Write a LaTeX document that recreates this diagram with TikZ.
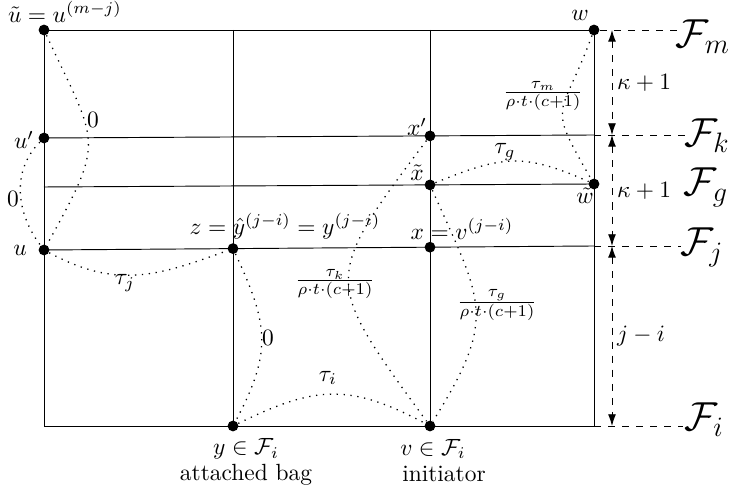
\documentclass[tikz,border=0pt]{standalone}
\usepackage{amsmath,amssymb}
\usetikzlibrary{arrows.meta,positioning,calc}

\tikzset{
  pt/.style={circle,fill=black,inner sep=0pt,minimum size=4.6pt},
  walk/.style={line width=0.55pt,dash pattern=on 0.55pt off 2.4pt},
  guide/.style={dashed},
  gap/.style={dashed,{Latex[length=5pt,width=3.4pt]}-{Latex[length=5pt,width=3.4pt]}},
  fam/.style={font=\LARGE,inner sep=0pt},
}

\begin{document}
\begin{tikzpicture}[x=0.015cm,y=-0.015cm]
\useasboundingbox (0,0) rectangle (731,497);

% points of the grid
\node[pt] (ut) at (44,30) {};
\node[pt] (up) at (44,138) {};
\node[pt] (u) at (44,250) {};
\node[pt] (z) at (233,248.6) {};
\node[pt] (xp) at (430,135.9) {};
\node[pt] (xt) at (430,184.9) {};
\node[pt] (x) at (430,247.2) {};
\node[pt] (w) at (594,30) {};
\node[pt] (wt) at (594,184) {};
\node[pt] (y) at (233,426) {};
\node[pt] (v) at (430,426) {};
\coordinate (bl) at (44,426);
\coordinate (br) at (594,426);
\coordinate (ytop) at (233,30);
\coordinate (vtop) at (430,30);
\coordinate (lg) at (44,187);
\coordinate (rk) at (594,135);
\coordinate (rj) at (594,246);

% frame and levels
\draw (ut.center) -- (w.center) -- (br) -- (bl) -- cycle;
\draw (ytop) -- (y.center);
\draw (vtop) -- (v.center);
\draw (up.center) -- (rk);
\draw (lg) -- (wt.center);
\draw (u.center) -- (rj);

% walks
\draw[walk] (ut) to[out=-65,in=61,looseness=1.5] (u);
\draw[walk] (up) to[out=-135,in=127] (u);
\draw[walk] (u) to[out=-28,in=-160,looseness=1.1] (z);
\draw[walk] (z) to[out=-65,in=62,looseness=1.2] (y);
\draw[walk] (y) to[out=26,in=152,looseness=1.18] (v);
\draw[walk] (xp) to[out=233,in=126,looseness=1.6] (v);
\draw[walk] (xt) to[out=-66,in=58,looseness=1.36] (v);
\draw[walk] (xt) to[out=22,in=156,looseness=1.2] (wt);
\draw[walk] (w) to[out=-110,in=120,looseness=1.63] (wt);

% weights
\node (c0a) at (93,120) {$0$};
\node (c0b) at (13,199) {$0$};
\node (ctj) at (125,283) {$\tau_j$};
\node (c0c) at (268,338) {$0$};
\node (cti) at (328,378) {$\tau_i$};
\node (ctk) at (335,284) {$\frac{\tau_k}{\rho\cdot t\cdot(c+1)}$};
\node (ctg) at (497,305) {$\frac{\tau_g}{\rho\cdot t\cdot(c+1)}$};
\node (ctgw) at (505,152) {$\tau_g$};
\node (ctm) at (543,96) {$\frac{\tau_m}{\rho\cdot t\cdot(c+1)}$};

% point labels
\node (lut) at (65,12) {$\tilde{u}=u^{(m-j)}$};
\node (lup) at (24,140) {$u'$};
\node (lu) at (20,250) {$u$};
\node (lz) at (285,226) {$z=\hat{y}^{(j-i)}=y^{(j-i)}$};
\node (lx) at (462,229) {$x=v^{(j-i)}$};
\node (lxp) at (417,127) {$x'$};
\node (lxt) at (417,173) {$\tilde{x}$};
\node (lw) at (580,15) {$w$};
\node (lwt) at (585,196) {$\tilde{w}$};
\node (ly) at (246,449) {$y\in\mathcal{F}_i$};
\node (lbag) at (246,475) {attached bag};
\node (lv) at (433,449) {$v\in\mathcal{F}_i$};
\node (linit) at (444,474) {initiator};

% levels on the right
\coordinate (fm) at (680,30);
\coordinate (fk) at (686,135);
\coordinate (fj) at (681,246);
\coordinate (fi) at (683,426);
\draw[guide] (w) -- (fm);
\draw[guide] (rk) -- (fk);
\draw[guide] (rj) -- (fj);
\draw[guide] (br) -- (fi);
\node[fam] (Fm) at (703,37) {$\mathcal{F}_m$};
\node[fam] (Fk) at (707,136) {$\mathcal{F}_k$};
\node[fam] (Fg) at (706,187) {$\mathcal{F}_g$};
\node[fam] (Fj) at (702,247) {$\mathcal{F}_j$};
\node[fam] (Fi) at (704,420) {$\mathcal{F}_i$};

\coordinate (am) at (612,30);
\coordinate (ak) at (612,135);
\coordinate (aj) at (612,246);
\coordinate (ai) at (612,426);
\draw[gap] (am) -- node[right,inner sep=2pt] (dmk) {$\kappa+1$} (ak);
\draw[gap] (ak) -- node[right,inner sep=2pt] (dkj) {$\kappa+1$} (aj);
\draw[gap] (aj) -- node[right,inner sep=2pt] (dji) {$j-i$} (ai);
\end{tikzpicture}
\end{document}
